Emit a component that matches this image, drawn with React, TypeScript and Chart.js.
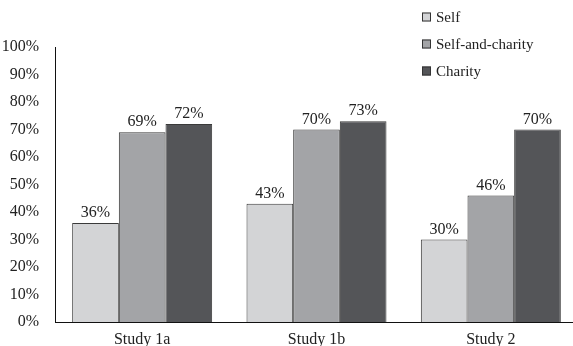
import React, { useEffect, useRef } from "react";
import { Chart, registerables } from "chart.js";

Chart.register(...registerables);

const categories = ["Study 1a", "Study 1b", "Study 2"];
const seriesNames = ["Self", "Self-and-charity", "Charity"];
const selfValues = [36, 43, 30];
const selfCharityValues = [69, 70, 46];
const charityValues = [72, 73, 70];
const seriesColors = ["#d3d4d6", "#a3a4a7", "#545558"];
const yTicks = [0, 10, 20, 30, 40, 50, 60, 70, 80, 90, 100];

const FONT = "'Liberation Serif', 'Times New Roman', serif";

const labelsPlugin = {
  id: "barLabels",
  afterDatasetsDraw(chart: any) {
    const ctx = chart.ctx;
    ctx.save();
    ctx.fillStyle = "#222";
    ctx.font = `16px ${FONT}`;
    ctx.textAlign = "center";
    ctx.textBaseline = "alphabetic";
    chart.data.datasets.forEach((ds: any, i: number) => {
      const meta = chart.getDatasetMeta(i);
      meta.data.forEach((bar: any, j: number) => {
        ctx.fillText(ds.data[j] + "%", bar.x, bar.y - 6);
      });
    });
    // legend
    const lx = 422;
    const ys = [17, 44, 71];
    ctx.textAlign = "left";
    ctx.textBaseline = "middle";
    ctx.font = `15px ${FONT}`;
    chart.data.datasets.forEach((ds: any, i: number) => {
      ctx.fillStyle = ds.backgroundColor;
      ctx.fillRect(lx, ys[i] - 4.5, 9, 9);
      ctx.strokeStyle = "#333";
      ctx.lineWidth = 1;
      ctx.strokeRect(lx + 0.5, ys[i] - 4, 8, 8);
      ctx.fillStyle = "#222";
      ctx.fillText(ds.label, lx + 14, ys[i] + 1);
    });
    ctx.restore();
  },
};

export default function App() {
  const ref = useRef<HTMLCanvasElement | null>(null);
  useEffect(() => {
    document.body.style.margin = "0";
    const values = [selfValues, selfCharityValues, charityValues];
    const chart = new Chart(ref.current!, {
      type: "bar",
      data: {
        labels: categories,
        datasets: seriesNames.map((name, i) => ({
          label: name,
          data: values[i],
          backgroundColor: seriesColors[i],
          borderColor: "#3a3a3a",
          borderWidth: 1,
          borderSkipped: "bottom",
          categoryPercentage: 0.803,
          barPercentage: 1,
        })),
      },
      options: {
        animation: false,
        responsive: false,
        maintainAspectRatio: false,
        layout: { padding: { top: 47, right: 0, left: 0, bottom: 0 } },
        plugins: { legend: { display: false }, tooltip: { enabled: false } },
        scales: {
          x: {
            grid: { display: false },
            border: { display: true, color: "#111", width: 1 },
            ticks: { color: "#222", font: { family: FONT, size: 16, lineHeight: 1 }, padding: 2 },
            afterFit: (s: any) => {
              s.height = 24;
            },
          },
          y: {
            min: 0,
            max: 100,
            grid: { display: false },
            border: { display: true, color: "#111", width: 1 },
            afterBuildTicks: (s: any) => {
              s.ticks = yTicks.map((v) => ({ value: v }));
            },
            ticks: {
              color: "#222",
              font: { family: FONT, size: 16 },
              padding: 8,
              callback: (v: any) => v + "%",
            },
            afterFit: (s: any) => {
              s.width = 55;
            },
          },
        },
      },
      plugins: [labelsPlugin],
    });
    return () => chart.destroy();
  }, []);
  return (
    <div style={{ width: 573, height: 346, overflow: "hidden", position: "relative", background: "#fff" }}>
      <canvas ref={ref} width={578} height={346} style={{ display: "block" }} />
    </div>
  );
}
